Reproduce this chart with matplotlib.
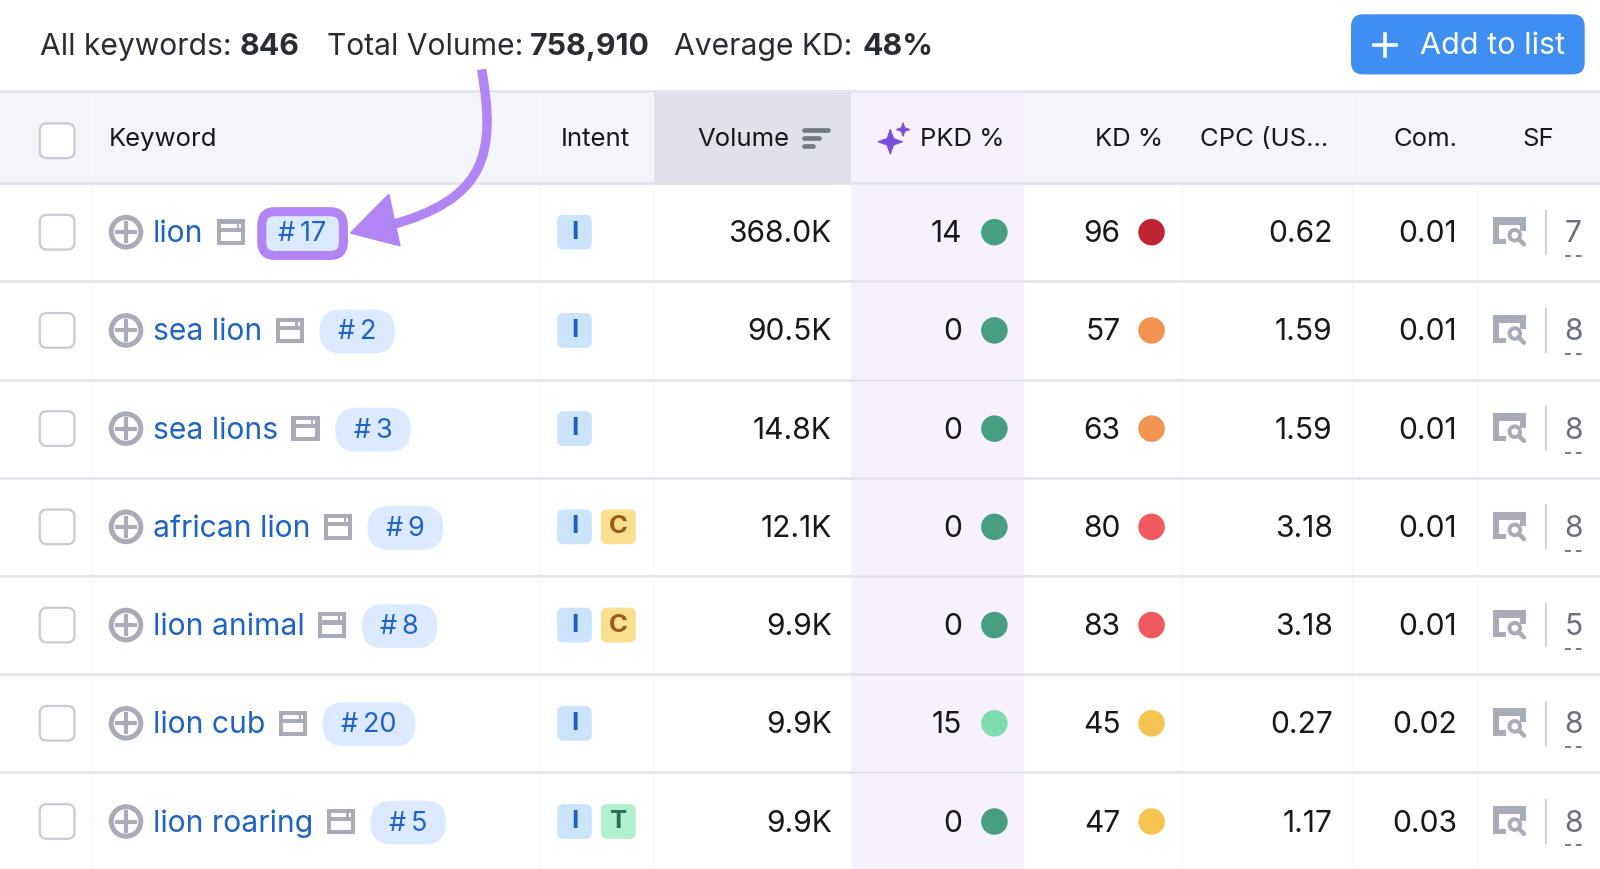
import matplotlib
matplotlib.use('Agg')
import matplotlib.pyplot as plt
from matplotlib.patches import FancyBboxPatch, Circle, Rectangle, PathPatch, Polygon
from matplotlib.path import Path

plt.rcParams['font.family'] = ['Inter', 'DejaVu Sans']

# Table data
keywords = ['lion', 'sea lion', 'sea lions', 'african lion', 'lion animal', 'lion cub', 'lion roaring']
positions = ['#17', '#2', '#3', '#9', '#8', '#20', '#5']
intents = [['I'], ['I'], ['I'], ['I', 'C'], ['I', 'C'], ['I'], ['I', 'T']]
volumes = ['368.0K', '90.5K', '14.8K', '12.1K', '9.9K', '9.9K', '9.9K']
pkd = [14, 0, 0, 0, 0, 15, 0]
kd = [96, 57, 63, 80, 83, 45, 47]
cpc = ['0.62', '1.59', '1.59', '3.18', '3.18', '0.27', '1.17']
com = ['0.01', '0.01', '0.01', '0.01', '0.01', '0.02', '0.03']
sf = [7, 8, 8, 8, 5, 8, 8]

headers = ['Keyword', 'Intent', 'Volume', 'PKD %', 'KD %', 'CPC (US...', 'Com.', 'SF']
summary = [('All keywords:', '846'), ('Total Volume:', '758,910'), ('Average KD:', '48%')]

INK = '#16181d'
LINK = '#1f63c4'
GREY = '#a9abb6'
PURPLE = '#b285f5'
ROW_H = 96.3
ROW_TOP = 179.5
BODY = 21.6
DY = 2  # text sits a bit low in the rows

intent_colors = {'I': ('#cbe4fb', '#1f5fbf'), 'C': ('#f8e08e', '#9a5a1c'), 'T': ('#b0f0cf', '#2a6e5a')}


def pkd_color(v):
    return '#7fdcae' if v >= 15 else '#479e80'


def kd_color(v):
    if v >= 85:
        return '#bf2433'
    if v >= 70:
        return '#ef5a5f'
    if v >= 50:
        return '#f29450'
    return '#f5c450'


def rbox(ax, x0, y0, x1, y1, r, fc, ec='none', lw=0, z=3):
    p = FancyBboxPatch((x0 + r, y0 + r), x1 - x0 - 2 * r, y1 - y0 - 2 * r, boxstyle=f'round,pad={r},rounding_size={r}',
                       fc=fc, ec=ec, lw=lw, zorder=z)
    ax.add_patch(p)
    return p


def star(ax, cx, cy, r, color):
    k = r * 0.26
    pts = [(cx, cy - r), (cx + k, cy - k), (cx + r, cy), (cx + k, cy + k), (cx, cy + r), (cx - k, cy + k), (cx - r, cy), (cx - k, cy - k)]
    ax.add_patch(Polygon(pts, closed=True, fc=color, ec=color, lw=0.8, joinstyle='round', zorder=4))


def serp_icon(ax, x, y):
    # page with a magnifier, y is row centre
    ax.add_patch(Rectangle((x, y - 15), 32, 8, fc=GREY, zorder=3))
    ax.add_patch(Rectangle((x, y - 15), 6, 27, fc=GREY, zorder=3))
    ax.add_patch(Rectangle((x + 27, y - 15), 5, 14, fc=GREY, zorder=3))
    ax.add_patch(Rectangle((x, y + 7), 13, 5, fc=GREY, zorder=3))
    ax.add_patch(Circle((x + 21.5, y + 3), 5.2, fc='white', ec=GREY, lw=2.8, zorder=3))
    ax.plot([x + 25.5, x + 30.5], [y + 7, y + 12], color=GREY, lw=3.2, solid_capstyle='round', zorder=3)


def window_icon(ax, x, y):
    ax.add_patch(Rectangle((x, y - 12.5), 27.5, 25, fc=GREY, zorder=3))
    ax.add_patch(Rectangle((x + 4, y - 8.5), 15.5, 4, fc='white', zorder=4))
    ax.add_patch(Rectangle((x + 21.5, y - 8.5), 2, 4, fc='white', zorder=4))
    ax.add_patch(Rectangle((x + 4, y - 0.5), 19.5, 9, fc='white', zorder=4))


fig = plt.figure(figsize=(16, 8.69), dpi=100, facecolor='white')
ax = fig.add_axes([0, 0, 1, 1])
ax.set_xlim(0, 1568)
ax.set_ylim(852, 0)
ax.axis('off')

# Column shading
ax.add_patch(Rectangle((0, 90), 1568, ROW_TOP - 90, fc='#f4f5f9', zorder=0))
ax.add_patch(Rectangle((640, 90), 193.5, ROW_TOP - 90, fc='#e0e1e9', zorder=1))
ax.add_patch(Rectangle((833.5, 90), 170.5, 762, fc='#f7f1fe', zorder=1))

for x in [90, 528, 640, 1158, 1325, 1447]:
    ax.plot([x, x], [90, 852], color='#f6f7fa', lw=1, zorder=1.5)

ax.plot([0, 1568], [89.5, 89.5], color='#e4e5ec', lw=2, zorder=2)
for i in range(7):
    y = ROW_TOP + i * ROW_H
    ax.plot([0, 1568], [y, y], color='#e4e5ec', lw=2, zorder=2)

# Summary line
for (label, value), x_lab, x_val in zip(summary, [39, 320, 661], [235, 519, 845]):
    ax.text(x_lab, 44 + DY, label, fontsize=21.6, color='#2a2c33', va='center', ha='left')
    ax.text(x_val, 44 + DY, value, fontsize=21.8, color='#2a2c33', va='center', ha='left', fontweight='bold')

# Button
rbox(ax, 1324, 14, 1553, 73, 12, '#3f8ef2')
ax.plot([1347, 1368], [44, 44], color='white', lw=2.6, zorder=4)
ax.plot([1357.5, 1357.5], [33.5, 54.5], color='white', lw=2.6, zorder=4)
ax.text(1392, 43.5 + DY, 'Add to list', fontsize=22, color='white', va='center', ha='left', zorder=4)

# Header
header_x = [107, 550, 683, 902, 1140, 1176, 1428, 1523]
header_ha = ['left', 'left', 'left', 'left', 'right', 'left', 'right', 'right']
for name, x, ha in zip(headers, header_x, header_ha):
    ax.text(x, 135 + DY, name, fontsize=18.5, color=INK, va='center', ha=ha, zorder=5)

rbox(ax, 39, 121, 73, 155, 7, 'white', '#c9cad3', 1.6)
for x0, x1, y in [(788, 811, 127), (788, 803, 135), (788, 797, 143.5)]:
    ax.plot([x0, x1], [y, y], color='#6f7a80', lw=3.4, solid_capstyle='round', zorder=4)
star(ax, 872.5, 139, 12, '#7a4fdc')
star(ax, 885, 127, 6.5, '#7a4fdc')

# Rows
fig.canvas.draw()
renderer = fig.canvas.get_renderer()
for i, kw in enumerate(keywords):
    y = ROW_TOP + ROW_H * (i + 0.5)
    rbox(ax, 39, y - 17, 73, y + 17, 7, 'white', '#c9cad3', 1.6)
    ax.add_patch(Circle((123.5, y), 14.5, fc='white', ec=GREY, lw=3.6, zorder=3))
    ax.plot([114.5, 132.5], [y, y], color=GREY, lw=3, zorder=4)
    ax.plot([123.5, 123.5], [y - 9, y + 9], color=GREY, lw=3, zorder=4)

    t = ax.text(150, y + DY, kw, fontsize=BODY, color=LINK, va='center', ha='left', zorder=5)
    bb = t.get_window_extent(renderer).transformed(ax.transData.inverted())
    end = bb.x1
    window_icon(ax, end + 13, y)

    label = positions[i][0] + '\u2009' + positions[i][1:]
    if i == 0:
        # first row carries the purple highlight
        rbox(ax, 256.5, 207.5, 336.5, 250.5, 13, '#dbeafe', PURPLE, 6.5, z=6)
        ax.text(296.5, y + 2, label, fontsize=19.5, color=LINK, va='center', ha='center', zorder=7)
    else:
        pill_x = end + 13 + 27 + 16
        pill_w = 74 if len(positions[i]) == 2 else 91
        rbox(ax, pill_x, y - 20.5, pill_x + pill_w, y + 22.5, 21, '#dbeafe', z=3)
        ax.text(pill_x + pill_w / 2, y + 2, label, fontsize=19.5, color=LINK, va='center', ha='center', zorder=5)

    for j, letter in enumerate(intents[i]):
        fc, tc = intent_colors[letter]
        x0 = 546 + j * 43
        rbox(ax, x0, y - 17, x0 + 34, y + 17, 6, fc)
        ax.text(x0 + 17, y, letter, fontsize=18.5, fontweight='bold', color=tc, va='center', ha='center', zorder=5)

    ax.text(815, y + DY, volumes[i], fontsize=BODY, color=INK, va='center', ha='right', zorder=5)

    ax.text(943, y + DY, str(pkd[i]), fontsize=BODY, color=INK, va='center', ha='right', zorder=5)
    ax.add_patch(Circle((974.5, y), 13, fc=pkd_color(pkd[i]), zorder=4))

    ax.text(1098, y + DY, str(kd[i]), fontsize=BODY, color=INK, va='center', ha='right', zorder=5)
    ax.add_patch(Circle((1128.5, y), 13, fc=kd_color(kd[i]), zorder=4))

    ax.text(1306, y + DY, cpc[i], fontsize=BODY, color=INK, va='center', ha='right', zorder=5)
    ax.text(1428, y + DY, com[i], fontsize=BODY, color=INK, va='center', ha='right', zorder=5)

    serp_icon(ax, 1463, y)
    ax.plot([1515.5, 1515.5], [y - 21, y + 21], color='#cfd0d8', lw=1.5, zorder=3)
    ax.text(1542, y + DY, str(sf[i]), fontsize=BODY, color='#6b6e7c', va='center', ha='center', zorder=5)
    ax.plot([1533.5, 1551], [y + 23.5, y + 23.5], color='#6b6e7c', lw=1.3, dashes=(3.2, 2.8), zorder=5)

# Arrow from the summary down to the first position
arrow = Path([(472, 68), (486, 150), (478, 196), (378, 222)], [Path.MOVETO, Path.CURVE4, Path.CURVE4, Path.CURVE4])
ax.add_patch(PathPatch(arrow, fc='none', ec=PURPLE, lw=6.8, capstyle='butt', zorder=6))
ax.add_patch(Polygon([(343.5, 228.5), (381, 190.5), (392, 241)], closed=True, fc=PURPLE, ec=PURPLE, lw=1, zorder=7))

plt.savefig('out.png', dpi=100)
